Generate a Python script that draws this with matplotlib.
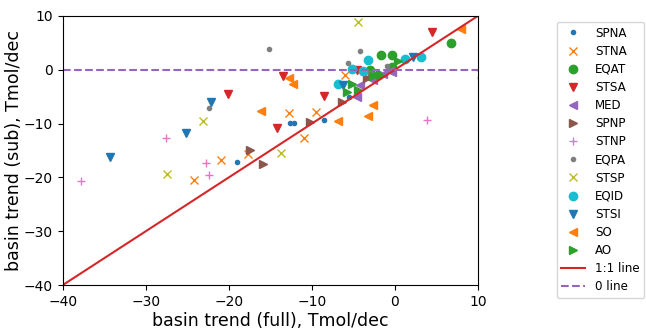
import numpy as np
import matplotlib
matplotlib.use("Agg")
import matplotlib.pyplot as plt

# basin trends, Tmol/dec: (full, sub) per basin
basins = ["SPNA", "STNA", "EQAT", "STSA", "MED", "SPNP", "STNP",
          "EQPA", "STSP", "EQID", "STSI", "SO", "AO"]
markers = [".", "x", "o", "v", "<", ">", "+", ".", "x", "o", "v", "<", ">"]
colors = ["C0", "C1", "C2", "C3", "C4", "C5", "C6", "C7", "C8", "C9", "C0", "C1", "C2"]

full = {
    "SPNA": [-12.6, -12.2, -8.5, -19.05, -5.5],
    "STNA": [-12.8, -9.5, -10.95, -17.7, -20.9, -24.2, -6.0],
    "EQAT": [6.75, -1.7, -0.3, -3.0, -0.4, -2.0],
    "STSA": [4.4, -13.5, -20.1, -8.5, -14.2, -4.6],
    "MED": [-0.6, -0.4, -4.2, -4.6, -2.6, -1.4],
    "SPNP": [-10.2, -17.45, -15.85, -6.4, -3.4, -2.8],
    "STNP": [-27.6, -37.8, -22.7, -22.35, 3.9],
    "EQPA": [-22.35, -15.2, -4.2, -5.6, -1.0, -3.0],
    "STSP": [-4.5, -23.1, -27.5, -13.7, 10.3],
    "EQID": [3.1, 1.2, -3.3, -5.2, -3.9, -6.8],
    "STSI": [2.2, -22.1, -25.2, -34.3, -6.2],
    "SO": [8.0, -12.7, -12.3, -16.1, -6.8, -2.7, -3.3],
    "AO": [0.4, -1.8, -5.2, -5.8, -4.4, -2.6],
}
sub = {
    "SPNA": [-9.9, -9.9, -9.4, -17.2, -5.0],
    "STNA": [-8.0, -7.8, -12.6, -15.6, -16.8, -20.4, -1.0],
    "EQAT": [4.9, 2.8, 2.7, -0.1, 0.5, -1.0],
    "STSA": [7.0, -1.2, -4.6, -4.9, -10.8, -0.1],
    "MED": [-0.3, -0.4, -2.9, -5.0, -1.9, -0.8],
    "SPNP": [-9.7, -14.9, -17.6, -6.0, -1.6, -1.1],
    "STNP": [-12.7, -20.6, -17.4, -19.5, -9.25],
    "EQPA": [-7.2, 3.9, 3.5, 1.3, 0.7, -0.6],
    "STSP": [8.9, -9.5, -19.4, -15.4, -0.8],
    "EQID": [2.3, 1.9, 1.8, 0.1, -0.3, -2.6],
    "STSI": [2.4, -6.0, -11.7, -16.3, -2.9],
    "SO": [7.6, -1.6, -2.7, -7.6, -9.6, -6.6, -8.6],
    "AO": [1.6, -1.0, -2.6, -4.1, -3.8, -1.2],
}

fig = plt.figure(figsize=(6.46, 3.3), dpi=100)
ax = fig.add_axes([0.097, 0.136, 0.643, 0.816])

for b, m, c in zip(basins, markers, colors):
    ax.plot(full[b], sub[b], m, color=c, linestyle="none", label=b)

lims = [-40, 10]
ax.plot(lims, lims, "-", color="C3", label="1:1 line")
ax.plot(lims, [0, 0], "--", color="C4", label="0 line")

ax.set_xlim(lims)
ax.set_ylim(lims)
ax.set_xlabel("basin trend (full), Tmol/dec", fontsize=12.5, labelpad=2.5)
ax.set_ylabel("basin trend (sub), Tmol/dec", fontsize=12.5, labelpad=0.5)
ax.legend(loc="upper left", bbox_to_anchor=(1.175, 1.0), fontsize=8.6,
          labelspacing=0.43)

plt.savefig("out.png")
